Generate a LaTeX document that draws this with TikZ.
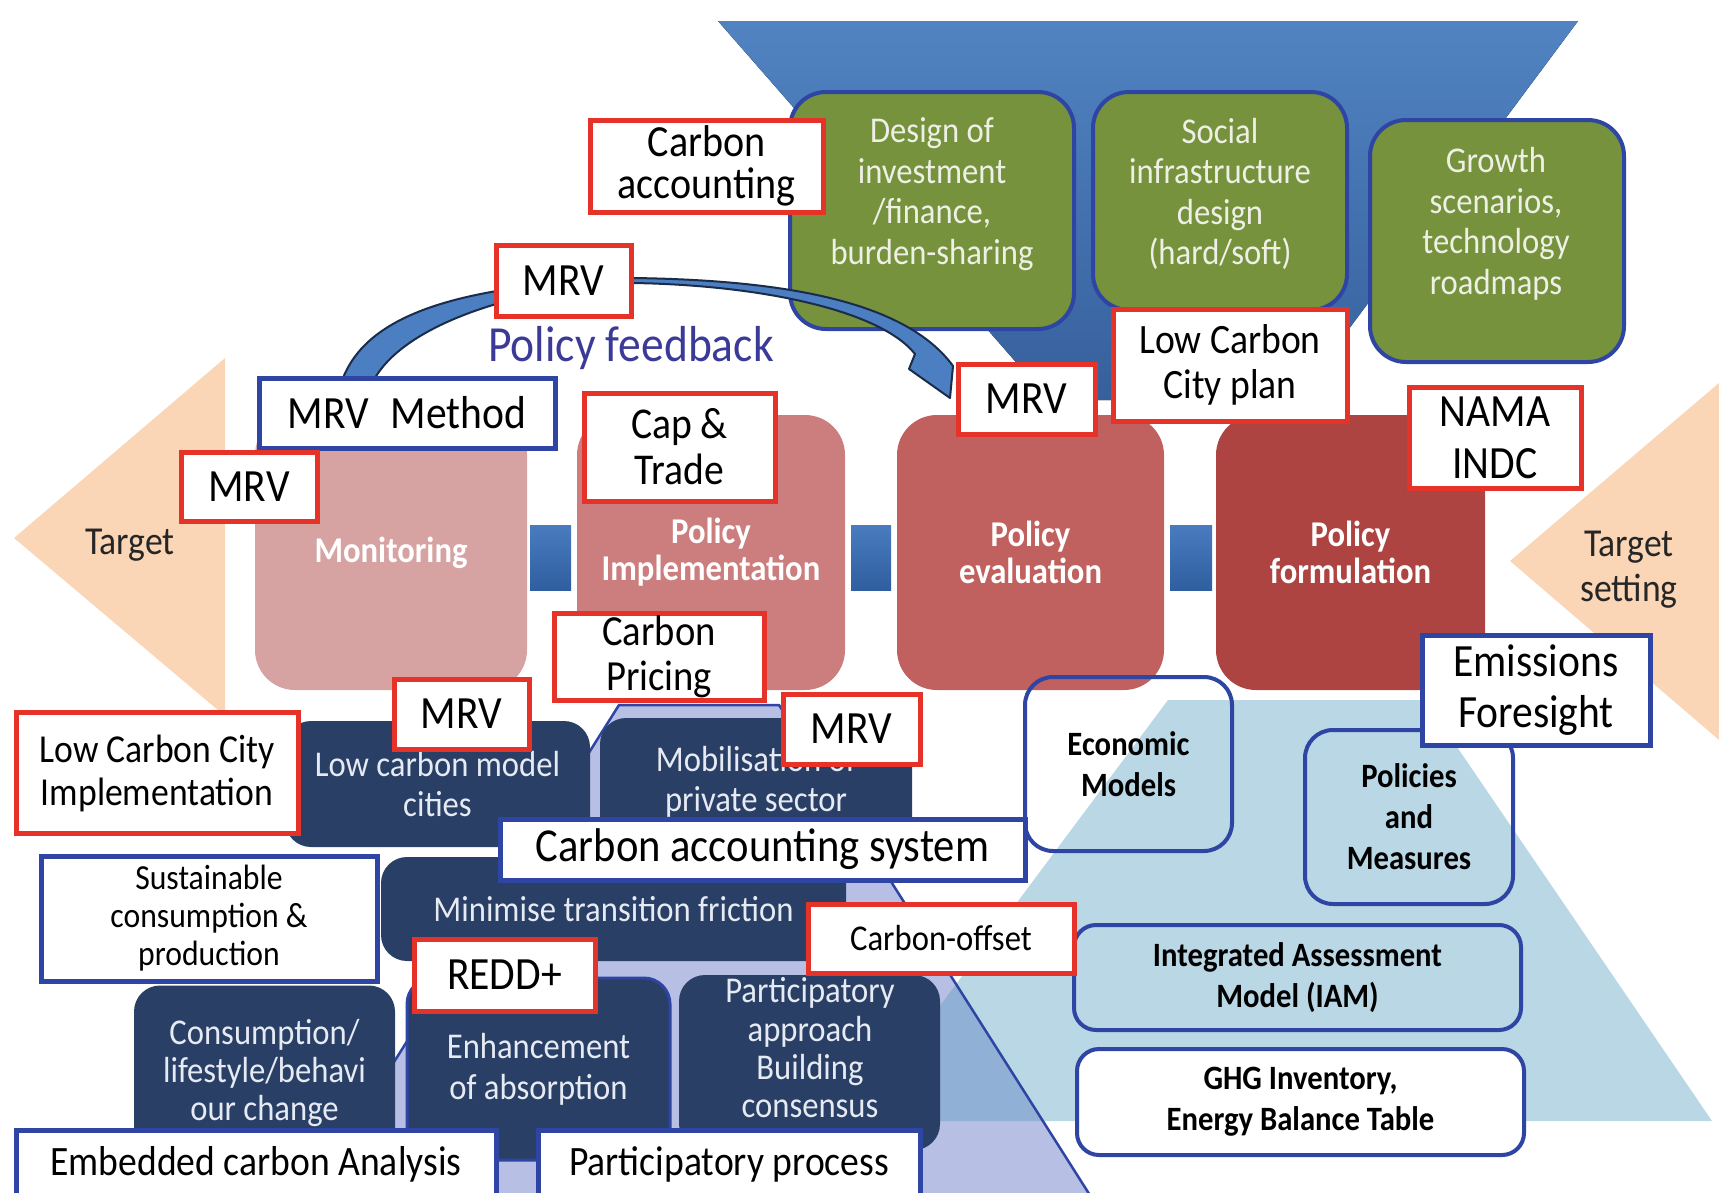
\documentclass[tikz,border=0pt]{standalone}
\usepackage{fontspec}
\setmainfont{Carlito}[FakeStretch=0.9]
\usetikzlibrary{calc}
\definecolor{trapTop}{HTML}{5183C2}
\definecolor{trapBot}{HTML}{36609C}
\definecolor{oliveG}{HTML}{76923C}
\definecolor{bordBlue}{HTML}{2E45A3}
\definecolor{lred}{HTML}{E5332A}
\definecolor{monC}{HTML}{D6A2A2}
\definecolor{pimpC}{HTML}{CC7E7E}
\definecolor{pevalC}{HTML}{C0615F}
\definecolor{pformC}{HTML}{AD4442}
\definecolor{sqTop}{HTML}{4A7BC0}
\definecolor{sqBot}{HTML}{2F5F9F}
\definecolor{peach}{HTML}{FBD6B6}
\definecolor{lblue}{HTML}{B9D7E5}
\definecolor{lav}{HTML}{B8BFE4}
\definecolor{medB}{HTML}{91B0D5}
\definecolor{navy}{HTML}{2A3F66}
\definecolor{navyText}{HTML}{E6EAF2}
\definecolor{arrBlue}{HTML}{4C7EC2}
\definecolor{arrDark}{HTML}{1B2B4A}
\definecolor{pfblue}{HTML}{3C3A98}
\definecolor{tgtText}{HTML}{262626}
\definecolor{gText}{HTML}{EEF0E6}
\begin{document}
\begin{tikzpicture}[x=1pt,y=-1pt,
  every node/.style={inner sep=0pt, outer sep=0pt},
  rl/.style={draw=lred, line width=5pt, fill=white, align=center, text=black, font=\fontsize{46.2}{46}\selectfont},
  bl/.style={rl, draw=bordBlue},
  gbox/.style={draw=bordBlue, line width=4pt, fill=oliveG, rounded corners=36pt},
  gtext/.style={text=gText, align=center, font=\fontsize{36.3}{40.5}\selectfont},
  pbox/.style={rounded corners=40pt, text=white, align=center, font=\bfseries\fontsize{36.3}{37}\selectfont, minimum height=275pt},
  sqbox/.style={top color=sqTop, bottom color=sqBot, minimum height=65pt},
  nbox/.style={fill=navy, rounded corners=26pt, text=navyText, align=center, font=\fontsize{36.3}{40}\selectfont},
  lbox/.style={draw=bordBlue, line width=4pt, rounded corners=28pt, align=center, text=black, font=\bfseries\fontsize{34.1}{41}\selectfont},
  tgt/.style={text=tgtText, align=center, font=\fontsize{39.6}{45}\selectfont}
]
\useasboundingbox (0,0) rectangle (1719,1192);

% top blue trapezoid
\fill[top color=trapTop, bottom color=trapBot] (718,21) -- (1578,21) -- (1296,400) -- (1049,400) -- cycle;

% green boxes
\node[gbox, minimum width=284pt, minimum height=237pt] (g1) at (932,210.5) {};
\node[gbox, minimum width=254pt, minimum height=218pt] (g2) at (1220,201) {};
\node[gbox, minimum width=254pt, minimum height=242pt] (g3) at (1497,241) {};
\node[gtext] (g1t) at (932,194) {Design of\\investment\\/finance,\\burden-sharing};
\node[gtext] (g2t) at (1220,194) {Social\\infrastructure\\design\\(hard/soft)};
\node[gtext] (g3t) at (1496,224) {Growth\\scenarios,\\technology\\roadmaps};

% curved feedback arrow
\filldraw[fill=arrBlue, draw=arrDark, line width=2pt, line join=round]
  (343,378) .. controls (370,310) and (470,285) .. (633,278)
  .. controls (780,280) and (905,300) .. (953,366)
  -- (950,398) -- (909,369) -- (915,354)
  .. controls (880,310) and (760,285) .. (633,283)
  .. controls (540,284) and (410,318) .. (375,378) -- cycle;

% target arrows
\fill[peach] (14,538) -- (225,358) -- (225,716) -- cycle;
\fill[peach] (1510,561) -- (1760,348) -- (1760,775) -- cycle;
\node[tgt] (tl) at (130,545) {Target};
\node[tgt] (tr) at (1629,570) {Target\\setting};

% bottom background trapezoids
\fill[lblue] (1168,700) -- (1425,700) -- (1712,1121) -- (854,1121) -- cycle;
\fill[lav] (619,705) -- (779,705) -- (1093,1200) -- (307,1200) -- cycle;
\begin{scope}
  \clip (1168,700) -- (1425,700) -- (1712,1121) -- (854,1121) -- cycle;
  \fill[medB] (619,705) -- (779,705) -- (1093,1200) -- (307,1200) -- cycle;
\end{scope}
\draw[bordBlue, line width=2.5pt] (307,1200) -- (619,705) -- (779,705) -- (1093,1200);

% policy cycle boxes
\node[pbox, fill=monC, minimum width=272pt] (mon) at (391,552.5) {Monitoring};
\node[pbox, fill=pimpC, minimum width=268pt] (pimp) at (711,552.5) {Policy\\Implementation};
\node[pbox, fill=pevalC, minimum width=267pt] (peval) at (1030.5,552.5) {Policy\\evaluation};
\node[pbox, fill=pformC, minimum width=269pt] (pform) at (1350.5,552.5) {Policy\\formulation};
\node[sqbox, minimum width=41pt] (sq1) at (550.5,557.5) {};
\node[sqbox, minimum width=40pt] (sq2) at (871,557.5) {};
\node[sqbox, minimum width=42pt] (sq3) at (1191,557.5) {};

% navy boxes
\node[nbox, minimum width=305pt, minimum height=126pt] (n1) at (437.5,784) {Low carbon model\\cities};
\node[nbox, minimum width=312pt, minimum height=128pt] (n2) at (756,782) {Mobilisation of\\private sector};
\node[nbox, minimum width=465pt, minimum height=104pt] (n3) at (613.5,909) {Minimise transition friction};
\node[nbox, minimum width=261pt, minimum height=175pt, font=\fontsize{36.3}{38}\selectfont] (n4) at (264.5,1073) {Consumption/\\lifestyle/behavi\\our change};
\node[nbox, draw=bordBlue, line width=3pt, minimum width=263pt, minimum height=182pt, font=\fontsize{36.3}{41}\selectfont] (n5) at (538.5,1069) {Enhancement\\of absorption};
\node[nbox, minimum width=261pt, minimum height=175pt] (n6) at (809.5,1062.5) {};
\node[text=navyText, align=center, font=\fontsize{36.3}{38.3}\selectfont] (n6t) at (810,1048) {Participatory\\approach\\Building\\consensus};

% model boxes
\node[lbox, minimum width=207pt, minimum height=174pt] (em) at (1128.5,764) {Economic\\Models};
\node[lbox, minimum width=208pt, minimum height=174pt] (pm) at (1409,817) {Policies\\and\\Measures};
\node[lbox, rounded corners=22pt, minimum width=447pt, minimum height=105pt] (iam) at (1297.5,977.5) {Integrated Assessment\\Model (IAM)};
\node[lbox, rounded corners=22pt, fill=white, minimum width=447pt, minimum height=106pt] (ghg) at (1300.5,1102) {GHG Inventory,\\Energy Balance Table};

% label boxes
\node[rl, minimum width=233pt, minimum height=92pt, font=\fontsize{44.5}{42}\selectfont] (cacc) at (706.5,166) {Carbon\\accounting};
\node[rl, minimum width=135pt, minimum height=71pt] (mrv1) at (563.5,280.5) {MRV};
\node[bl, minimum width=296pt, minimum height=70pt] (mrvm) at (407,413) {MRV\hspace{22pt}Method};
\node[rl, minimum width=136pt, minimum height=69pt] (mrv2) at (249,486.5) {MRV};
\node[rl, minimum width=191pt, minimum height=108pt, font=\fontsize{44}{46}\selectfont] (cap) at (679.5,447) {Cap \&\\Trade};
\node[rl, minimum width=137pt, minimum height=70pt] (mrv3) at (1026.5,399) {MRV};
\node[rl, minimum width=234pt, minimum height=112pt, font=\fontsize{41.8}{45.5}\selectfont] (lccp) at (1230,365) {Low Carbon\\City plan};
\node[rl, minimum width=172pt, minimum height=101pt, font=\fontsize{46.2}{52}\selectfont] (nama) at (1495,437.5) {NAMA\\INDC};
\node[rl, minimum width=210pt, minimum height=87pt, font=\fontsize{42.9}{45}\selectfont] (cpr) at (659,657) {Carbon\\Pricing};
\node[rl, minimum width=135pt, minimum height=70pt] (mrv4) at (461.5,714) {MRV};
\node[rl, minimum width=137pt, minimum height=70pt] (mrv5) at (851.5,729) {MRV};
\node[rl, minimum width=282pt, minimum height=121pt, font=\fontsize{39.6}{43}\selectfont] (lcci) at (157,773) {Low Carbon City\\Implementation};
\node[bl, minimum width=525pt, minimum height=61pt, font=\fontsize{47.3}{46}\selectfont] (cas) at (762.5,849.5) {Carbon accounting system};
\node[rl, minimum width=266pt, minimum height=69pt, font=\fontsize{36.3}{38}\selectfont] (coff) at (941,938.5) {Carbon-offset};
\node[rl, minimum width=181pt, minimum height=72pt] (redd) at (504.5,975) {REDD+};
\node[bl, minimum width=336pt, minimum height=125pt, font=\fontsize{35.2}{38}\selectfont] (scp) at (209,918.5) {Sustainable\\consumption \&\\production};
\node[bl, minimum width=480pt, minimum height=68pt, font=\fontsize{41.8}{42}\selectfont] (eca) at (256,1164) {Embedded carbon Analysis};
\node[bl, minimum width=382pt, minimum height=68pt, font=\fontsize{41.8}{42}\selectfont] (pp) at (729,1164) {Participatory process};
\node[bl, minimum width=228pt, minimum height=110pt, font=\fontsize{46.2}{51}\selectfont] (ef) at (1536,690.5) {Emissions\\Foresight};

% policy feedback label
\node[text=pfblue, font=\fontsize{50.6}{50}\selectfont] (pf) at (631,348) {Policy feedback};
\end{tikzpicture}
\end{document}
